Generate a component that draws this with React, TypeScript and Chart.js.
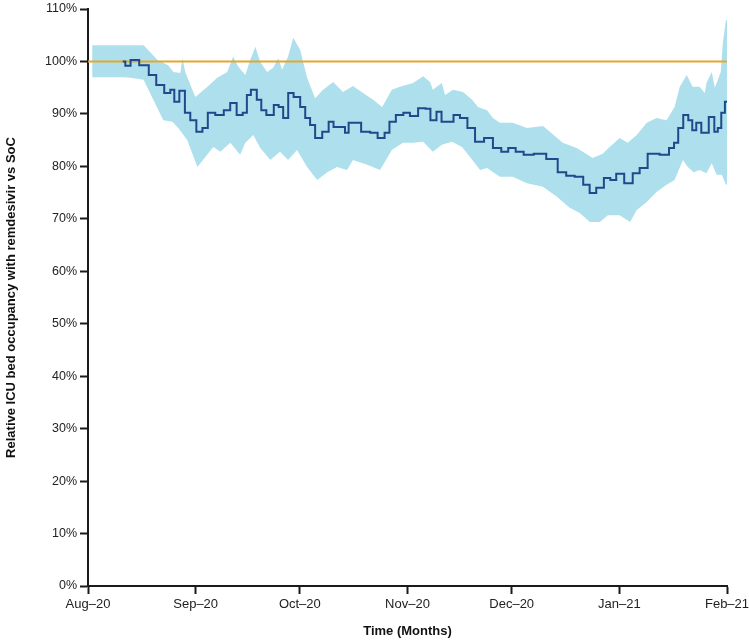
import { useEffect, useRef } from "react"
import Chart from "chart.js/auto"

// days since 1 Aug 2020 where each month starts, and its label
const monthDays = [0, 31, 61, 92, 122, 153, 184]
const monthLabels = ["Aug–20", "Sep–20", "Oct–20", "Nov–20", "Dec–20", "Jan–21", "Feb–21"]

const yTicks = [0, 10, 20, 30, 40, 50, 60, 70, 80, 90, 100, 110]

// relative ICU bed occupancy (%), central estimate
const meanDays = [
  10, 11.5, 13, 16.5, 18.5, 20.8, 23.1, 24.3, 25.4, 27.2,
  28.6, 30.3, 32.1, 33.8, 35.2, 38.1, 40.1, 41.8, 43.8, 45.3,
  46.2, 47.6, 49.6, 50.2, 52.5, 54.5, 55.3, 57.1, 58.2, 60.2,
  62, 63.1, 64.8, 66, 68.9, 69.7, 71.7, 73.4, 74.6, 75.5,
  76.9, 80.4, 82.1, 84.7, 86.1, 87.5, 89.8, 91.8, 93.6, 96.5,
  97.9, 99.3, 101.4, 102.2, 104.8, 105.7, 108.5, 110, 112.9, 115.2,
  118, 120, 122, 124.3, 126.6, 130.1, 133.8, 136.7, 138.7, 141.6,
  143.6, 145.3, 147.4, 149.7, 151.1, 153.1, 155.7, 158, 159.7, 162.6,
  166.6, 168, 169.5, 170.4, 172.4, 173.3, 174.7, 175.6, 177.6, 179.9,
  180.8, 181.9, 182.8, 184,
]
const meanValues = [
  100, 99.2, 100.3, 99.3, 97.4, 95.5, 94, 94.6, 92.3, 94.4,
  90.2, 88.8, 86.6, 87.3, 90.2, 89.8, 90.7, 92.1, 89.8, 90.2,
  93.6, 94.6, 92.7, 90.7, 89.8, 91.7, 91.3, 89.2, 94, 93.2,
  91.3, 89.2, 87.9, 85.4, 86.6, 88.5, 87.5, 87.5, 86.4, 88.3,
  88.3, 86.6, 86.4, 85.4, 86.4, 88.5, 89.8, 90.2, 89.6, 91.1,
  91, 88.8, 90.4, 88.5, 88.5, 89.8, 89.2, 87.3, 84.7, 85.4,
  83.5, 82.8, 83.5, 82.8, 82.2, 82.4, 81.4, 78.9, 78.2, 78,
  76.5, 74.9, 75.9, 77.8, 77.4, 78.6, 76.8, 78.7, 79.7, 82.4,
  82.2, 83.5, 84.5, 87.3, 89.8, 88.8, 86.9, 88.3, 86.4, 89.4,
  86.6, 87.3, 90.2, 92.3,
]

// upper bound of the uncertainty band
const upperDays = [
  1.2, 16, 18, 20, 23.1, 24.6, 26.6, 27.2, 28, 30.9, 34.4,
  37.2, 40.1, 41.8, 43.3, 45.3, 46.7, 48.2, 49.6, 51.6, 53.3,
  54.8, 55.9, 57.6, 59.1, 61.1, 63.1, 65.4, 67.7, 70.6, 73.4,
  76.3, 79.2, 82.1, 84.7, 87.5, 89.8, 93.6, 96.5, 98.5, 99.3,
  101.9, 102.8, 105.1, 108, 110.6, 112.3, 114.9, 116.6, 118.6, 122.3,
  126.4, 131, 133, 136.7, 140.7, 143.9, 145.3, 148.2, 150.2, 153.1,
  155.4, 158, 160.9, 163.7, 166.6, 168.9, 170.4, 172.4, 174.1, 176.1,
  177.6, 178.1, 179.6, 180.5, 182.2, 182.8, 183.7, 184,
]
const upperValues = [
  103.1, 103.1, 101.7, 100.3, 99.3, 98, 97.8, 100.6, 98, 93.2, 95.2,
  96.9, 98, 100.9, 99, 97.4, 100.3, 102.8, 99.9, 98, 98.8,
  100.6, 98.4, 100.9, 104.5, 102.2, 96.9, 93, 94.6, 96.1, 94.2,
  95.3, 94, 92.7, 91.3, 94.6, 95.2, 95.9, 97.2, 96.1, 94.6,
  95.9, 93.6, 94.6, 94.2, 92.7, 91.3, 90.7, 89.2, 88.3, 88.3,
  87.3, 87.7, 86.6, 84.5, 83.5, 82.2, 81.6, 82.4, 83.7, 85.4,
  84.5, 86, 88.3, 89.2, 88.8, 91.3, 95.2, 97.4, 95.2, 95.2,
  94, 95.9, 98, 95, 98, 103.5, 107.9, 107.9,
]

// lower bound of the uncertainty band
const lowerDays = [
  1.2, 10.2, 12.2, 16, 18.8, 21.7, 24.3, 26, 28.6, 31.5,
  33.8, 36.1, 38.1, 41, 43.8, 45.3, 47.6, 49.6, 52.5, 55.3,
  57.6, 60.2, 63.1, 66, 68.9, 71.7, 74.6, 76.3, 80.4, 84.1,
  87.5, 90.7, 93.6, 96.5, 99.3, 101.9, 104.8, 107.7, 110, 112.9,
  114.9, 118.6, 122.3, 126.4, 131, 135, 138.7, 141.6, 144.5, 147.4,
  149.7, 153.1, 156.1, 158, 160.9, 163.7, 166.6, 168.9, 171.3, 172.7,
  174.4, 176.1, 178.1, 179.6, 181, 182.5, 183.7, 184,
]
const lowerValues = [
  97, 97, 96.9, 96.5, 92.7, 88.8, 88.5, 87.3, 85, 79.9,
  81.8, 83.7, 82.8, 84.5, 82.2, 84.5, 86, 83.5, 81.2, 82.8,
  81.2, 83.1, 79.9, 77.4, 78.9, 79.9, 79.3, 81.2, 80.3, 79.3,
  83.1, 84.5, 84.5, 84.7, 82.8, 84.1, 84.7, 83.7, 81.8, 79.3,
  79.7, 78, 78, 76.8, 76.1, 74.2, 72.1, 71.1, 69.4, 69.4,
  70.7, 70.7, 69.4, 71.7, 73.2, 75.1, 76.5, 77.4, 81.2, 79.9,
  78.9, 79.3, 78.7, 80.6, 78.4, 78.4, 76.5, 76.5,
]

const referenceLevel = 100

const toPoints = (xs: number[], ys: number[]) => xs.map((x, i) => ({ x, y: ys[i] }))

const FONT = "'Liberation Sans', Arial, Helvetica, sans-serif"
const AXIS = "#1a1a1a"

export default function App() {
  const chartRef = useRef<HTMLCanvasElement>(null)
  const chartInstance = useRef<Chart | null>(null)

  useEffect(() => {
    if (!chartRef.current) return
    if (chartInstance.current) chartInstance.current.destroy()

    chartInstance.current = new Chart(chartRef.current, {
      type: "line",
      data: {
        datasets: [
          {
            label: "Relative occupancy",
            data: toPoints(meanDays, meanValues),
            borderColor: "#1e4a8c",
            borderWidth: 2,
            pointRadius: 0,
            stepped: "middle",
            fill: false,
            order: 0,
          },
          {
            label: "SoC",
            data: [
              { x: monthDays[0], y: referenceLevel },
              { x: monthDays[monthDays.length - 1], y: referenceLevel },
            ],
            borderColor: "#e6a52c",
            borderWidth: 2,
            pointRadius: 0,
            fill: false,
            order: 1,
          },
          {
            label: "Upper",
            data: toPoints(upperDays, upperValues),
            borderColor: "rgba(0,0,0,0)",
            borderWidth: 0,
            backgroundColor: "#ade0ec",
            pointRadius: 0,
            tension: 0,
            fill: "+1",
            order: 2,
          },
          {
            label: "Lower",
            data: toPoints(lowerDays, lowerValues),
            borderColor: "rgba(0,0,0,0)",
            borderWidth: 0,
            pointRadius: 0,
            tension: 0,
            fill: false,
            order: 3,
          },
        ],
      },
      options: {
        animation: false,
        responsive: true,
        maintainAspectRatio: false,
        layout: { padding: { top: 9, right: 22, bottom: 0, left: 0 } },
        plugins: {
          legend: { display: false },
          tooltip: { enabled: false },
        },
        scales: {
          x: {
            type: "linear",
            min: monthDays[0],
            max: monthDays[monthDays.length - 1],
            afterBuildTicks: (scale) => {
              scale.ticks = monthDays.map((value) => ({ value }))
            },
            afterFit: (scale) => {
              scale.height = 57
              scale.paddingLeft = 0
              scale.paddingRight = 0
            },
            ticks: {
              callback: (value) => monthLabels[monthDays.indexOf(Number(value))],
              color: "#222",
              font: { family: FONT, size: 13 },
              padding: 3,
              maxRotation: 0,
              autoSkip: false,
            },
            grid: { drawOnChartArea: false, drawTicks: true, tickLength: 8, tickColor: AXIS, tickWidth: 2 },
            border: { display: true, color: AXIS, width: 2 },
            title: {
              display: true,
              text: "Time (Months)",
              color: "#111",
              font: { family: FONT, size: 13, weight: "bold" },
              padding: { top: 4, bottom: 4 },
            },
          },
          y: {
            min: 0,
            max: 110,
            afterBuildTicks: (scale) => {
              scale.ticks = yTicks.map((value) => ({ value }))
            },
            afterFit: (scale) => {
              scale.width = 88
              scale.paddingTop = 0
              scale.paddingBottom = 0
            },
            ticks: {
              callback: (value) => value + "%",
              color: "#222",
              font: { family: FONT, size: 12.5 },
              padding: 3,
            },
            grid: { drawOnChartArea: false, drawTicks: true, tickLength: 8, tickColor: AXIS, tickWidth: 2 },
            border: { display: true, color: AXIS, width: 2 },
            title: {
              display: true,
              text: "Relative ICU bed occupancy with remdesivir vs SoC",
              color: "#111",
              font: { family: FONT, size: 13, weight: "bold" },
              padding: { top: 4, bottom: 4 },
            },
          },
        },
      },
    })

    return () => {
      if (chartInstance.current) {
        chartInstance.current.destroy()
        chartInstance.current = null
      }
    }
  }, [])

  return (
    <div style={{ position: "absolute", left: 0, top: 0, width: 749, height: 643, background: "#fff" }}>
      <canvas ref={chartRef} />
    </div>
  )
}
